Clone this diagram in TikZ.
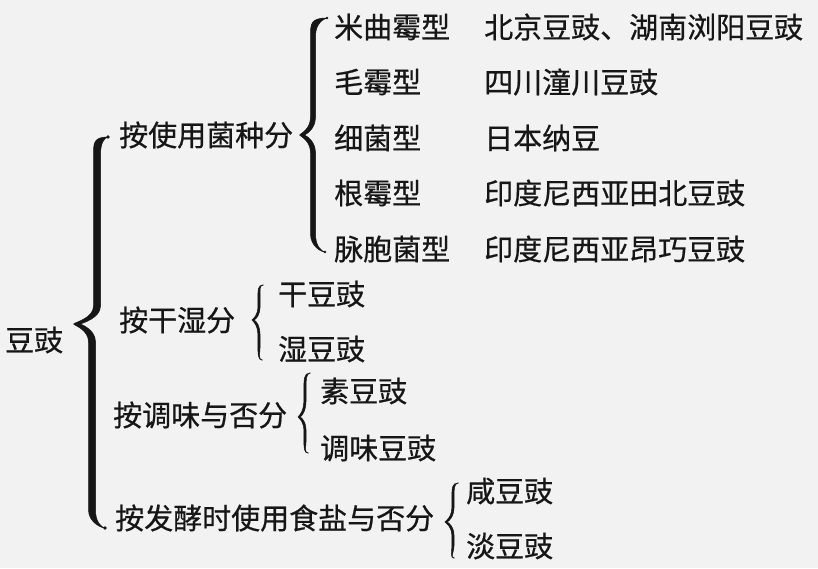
\documentclass[tikz,border=0pt]{standalone}
\usepackage{fontspec}
\setmainfont{Noto Sans CJK SC}[FakeBold=0.6]
\definecolor{bg}{RGB}{242,242,242}
\definecolor{ink}{RGB}{22,22,22}
\newcommand\cbrace[9]{%
 \pgfmathsetmacro\hw{#9/2}%
 \pgfmathsetmacro\ru{min(18,(#5-#2)*0.4)}%
 \pgfmathsetmacro\rl{min(18,(#8-#5)*0.4)}%
 \pgfmathsetmacro\cr{#9*0.28}%
 \filldraw[ink, line width=0.5pt, line join=round] (#1,#2) .. controls ({#3-\hw},#2) and ({#3-\hw},{#2+\ru/3}) .. ({#3-\hw},{#2+\ru})
   -- ({#3-\hw},{#5-\ru}) .. controls ({#3-\hw},{#5-\ru/3}) and ({#4-\hw+2},{#5-2}) .. ({#4-\hw},#5)
   .. controls ({#4-\hw+2},{#5+2}) and ({#6-\hw},{#5+\rl/3}) .. ({#6-\hw},{#5+\rl})
   -- ({#6-\hw},{#8-\rl}) .. controls ({#6-\hw},{#8-\rl/3}) and ({#7-4},#8) .. (#7,#8)
   .. controls ({#7-4},{#8-1}) and ({#6+\hw},{#8-\rl/3}) .. ({#6+\hw},{#8-\rl})
   -- ({#6+\hw},{#5+\rl}) .. controls ({#6+\hw},{#5+\rl/3}) and ({#4+\hw+2},{#5+1}) .. ({#4+\hw},#5)
   .. controls ({#4+\hw+2},{#5-1}) and ({#3+\hw},{#5-\ru/3}) .. ({#3+\hw},{#5-\ru})
   -- ({#3+\hw},{#2+\ru}) .. controls ({#3+\hw},{#2+\ru/3}) and ({#1-4},{#2+1}) .. (#1,#2) -- cycle;
 \fill[ink] (#1,#2) circle[radius=\cr pt];
 \fill[ink] (#7,#8) circle[radius=\cr pt];
}
\begin{document}
\begin{tikzpicture}[x=1pt,y=-1pt,
  lbl/.style={anchor=west, inner sep=0pt, text=ink, font=\fontsize{29}{32}\selectfont}]
\fill[bg] (0,0) rectangle (818,568);
\useasboundingbox (0,0) rectangle (818,568);
% root
\node[lbl] (root) at (5,340) {豆豉};
% level 1
\node[lbl] (c1) at (119,135) {按使用菌种分};
\node[lbl] (c2) at (119,320) {按干湿分};
\node[lbl] (c3) at (113,415) {按调味与否分};
\node[lbl] (c4) at (115,518) {按发酵时使用食盐与否分};
% level 2 of c1
\node[lbl] (t1) at (334,27) {米曲霉型};
\node[lbl] (t2) at (334,82) {毛霉型};
\node[lbl] (t3) at (334,138) {细菌型};
\node[lbl] (t4) at (334,193) {根霉型};
\node[lbl] (t5) at (334,249) {脉胞菌型};
\node[lbl] (e1) at (484,27) {北京豆豉、湖南浏阳豆豉};
\node[lbl] (e2) at (484,82) {四川潼川豆豉};
\node[lbl] (e3) at (484,138) {日本纳豆};
\node[lbl] (e4) at (484,193) {印度尼西亚田北豆豉};
\node[lbl] (e5) at (484,249) {印度尼西亚昂巧豆豉};
% c2
\node[lbl] (d1) at (278,294) {干豆豉};
\node[lbl] (d2) at (278,349) {湿豆豉};
% c3
\node[lbl] (s1) at (320,391) {素豆豉};
\node[lbl] (s2) at (320,448) {调味豆豉};
% c4
\node[lbl] (x1) at (466,491) {咸豆豉};
\node[lbl] (x2) at (466,546) {淡豆豉};
% braces
\cbrace{108}{137}{97}{77}{324}{92}{105}{528}{7}
\cbrace{327}{18}{313}{302}{135}{313}{325}{252}{5}
\cbrace{263}{285}{259}{253}{320}{259}{262}{360}{2.2}
\cbrace{310}{373}{305}{299}{417}{305}{308}{453}{2.2}
\cbrace{458}{483}{453}{446}{522}{453}{454}{558}{2.2}
\end{tikzpicture}
\end{document}
